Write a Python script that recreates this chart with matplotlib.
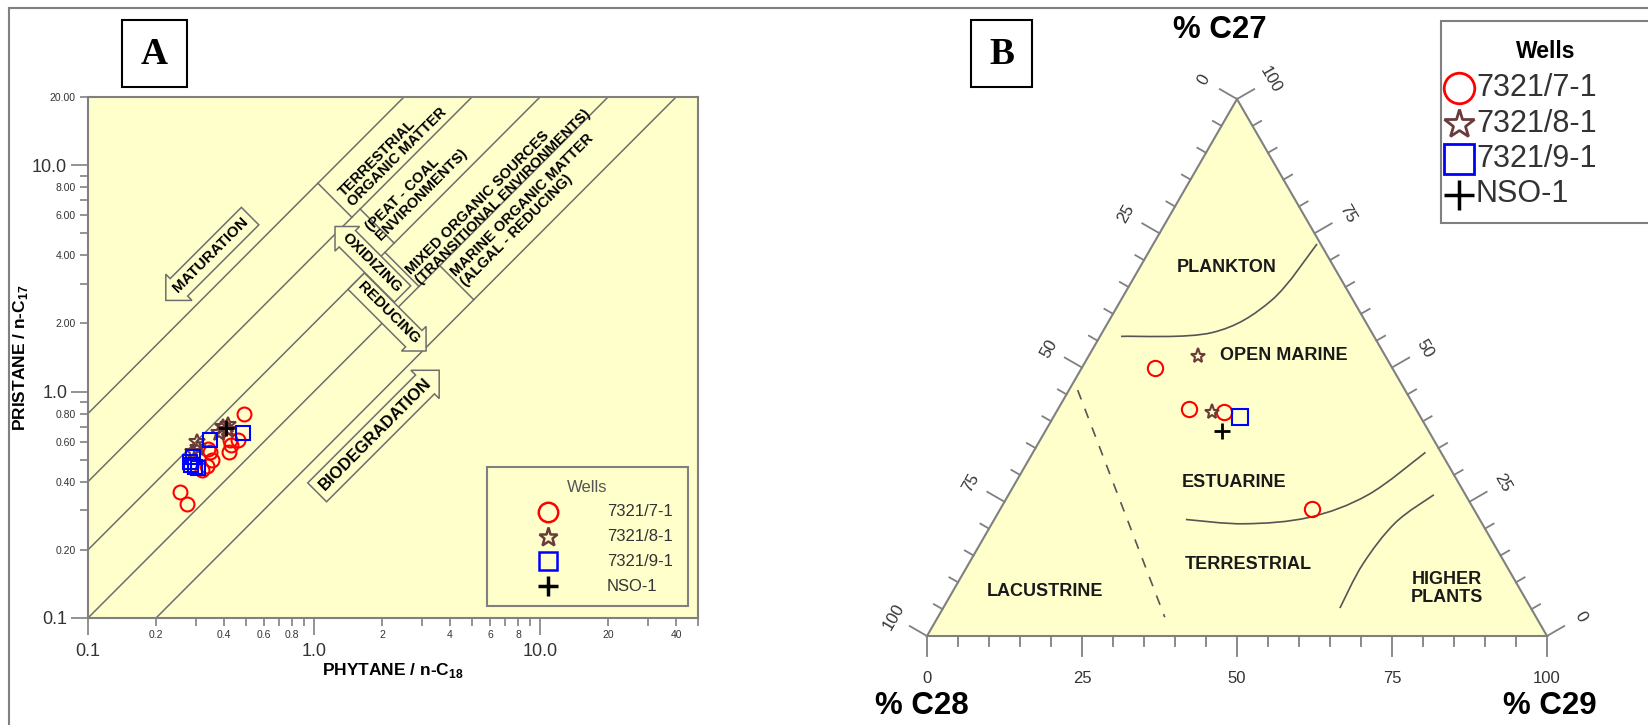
import numpy as np
import matplotlib
matplotlib.use('Agg')
import matplotlib.pyplot as plt
from matplotlib.path import Path
from matplotlib.patches import PathPatch, Polygon, Rectangle
from matplotlib.lines import Line2D
from matplotlib.ticker import FixedLocator, FuncFormatter

plt.rcParams['font.family'] = ['Liberation Sans', 'DejaVu Sans']
plt.rcParams['mathtext.fontset'] = 'custom'
plt.rcParams['mathtext.rm'] = 'Liberation Sans'
plt.rcParams['mathtext.bf'] = 'Liberation Sans:bold'

W, H = 1649, 725
YELLOW = '#ffffcc'
GRAY = '#808080'
LINE = '#6e6e6e'
TXT = '#333333'

# ---------------- data ----------------
wells = ['7321/7-1', '7321/8-1', '7321/9-1', 'NSO-1']

# panel A : phytane/n-C18 (x) vs pristane/n-C17 (y)
ph_71 = [0.49, 0.255, 0.273, 0.42, 0.425, 0.46, 0.347, 0.353, 0.335, 0.319, 0.34, 0.43]
pr_71 = [0.80, 0.36, 0.32, 0.54, 0.61, 0.61, 0.54, 0.50, 0.47, 0.45, 0.56, 0.58]
ph_81 = [0.397, 0.418, 0.381, 0.303, 0.308, 0.292, 0.418]
pr_81 = [0.70, 0.677, 0.655, 0.601, 0.561, 0.543, 0.711]
ph_91 = [0.487, 0.347, 0.292, 0.287, 0.297, 0.308, 0.283]
pr_91 = [0.659, 0.611, 0.516, 0.474, 0.466, 0.459, 0.49]
ph_nso = [0.41]
pr_nso = [0.69]

# diagonal Pr/n-C17 : Ph/n-C18 ratio lines
ratio_lines = [8, 4, 2, 1, 0.5]
# brackets: (from line, to line, x where bracket leaves first line)
brackets = [(8, 4, 1.04), (4, 2, 1.6), (2, 1, 2.06), (1, 0.5, 3.6)]

x_minor_lab = {0.2: '0.2', 0.4: '0.4', 0.6: '0.6', 0.8: '0.8', 2: '2', 4: '4',
               6: '6', 8: '8', 20: '20', 40: '40'}
y_minor_lab = {0.2: '0.20', 0.4: '0.40', 0.6: '0.60', 0.8: '0.80', 2: '2.00',
               4: '4.00', 6: '6.00', 8: '8.00', 20: '20.00'}

# panel B : sterane ternary (%C27, %C28, %C29)
c27_71 = [50.0, 42.2, 41.8, 23.7]
c28_71 = [38.3, 36.7, 31.2, 26.1]
c29_71 = [11.7, 21.1, 27.0, 50.2]
c27_81 = [52.1, 41.8]
c28_81 = [30.3, 33.2]
c29_81 = [17.6, 25.0]
c27_91 = [40.7]
c28_91 = [29.1]
c29_91 = [30.2]
c27_nso = [38.1]
c28_nso = [33.3]
c29_nso = [28.6]

# environment boundaries, as (%C27, %C29)
plankton_curve = [(55.8, 3.4), (56.5, 17.7), (62.5, 24.3), (73.0, 26.4)]
estuarine_curve = [(21.7, 30.9), (20.9, 40.8), (22.1, 50.6), (26.3, 58.0), (34.2, 63.3)]
plants_curve = [(5.2, 64.0), (13.4, 63.6), (21.1, 65.0), (26.3, 68.6)]
lacustrine_line = [(45.8, 1.4), (3.5, 36.6)]

styles = {
    '7321/7-1': dict(marker='o', mec='#ff0000'),
    '7321/8-1': dict(marker='*', mec='#6b3b3b'),
    '7321/9-1': dict(marker='s', mec='#0000ff'),
    'NSO-1': dict(marker='+', mec='#000000'),
}


def fx(px):
    return px / W


def fy(py):
    return 1 - py / H


fig = plt.figure(figsize=(W / 100, H / 100), dpi=100)

# outer frame
fig.add_artist(Line2D([fx(9), fx(9)], [0, fy(8)], color=GRAY, lw=1.5))
fig.add_artist(Line2D([fx(9), 1], [fy(8), fy(8)], color=GRAY, lw=1.5))

# panel letters
for letter, x0, x1 in [('A', 122, 187), ('B', 971, 1032)]:
    fig.add_artist(Rectangle((fx(x0), fy(87)), fx(x1 - x0), (87 - 20) / H,
                             transform=fig.transFigure, fc='white', ec='black', lw=1.5))
    fig.text(fx((x0 + x1) / 2), fy(54), letter, family='Liberation Serif',
             weight='bold', fontsize=27, ha='center', va='center')

# ================= panel A =================
ax = fig.add_axes([fx(88), fy(618), (698 - 88) / W, (618 - 97) / H])
ax.set_facecolor(YELLOW)
ax.set_xscale('log')
ax.set_yscale('log')
ax.set_xlim(0.1, 50)
ax.set_ylim(0.1, 20)

xs = np.array([0.01, 100.0])
for k in ratio_lines:
    ax.plot(xs, k * xs, color=LINE, lw=1.1, zorder=1)

for k1, k2, x1 in brackets:
    u = np.log10(x1)
    a1, a2 = np.log10(k1), np.log10(k2)
    d = (a1 - a2) / 2
    ax.plot([10 ** u, 10 ** (u + d)], [10 ** (u + a1), 10 ** (u + a1 - d)],
            color=LINE, lw=1.1, zorder=1)

arrow_box = dict(fc=YELLOW, ec=LINE, lw=1.1)
ax.text(0.35, 4.0, 'MATURATION', rotation=45, ha='center', va='center', fontsize=11,
        weight='bold', zorder=2, bbox=dict(boxstyle='larrow,pad=0.35', **arrow_box))
ax.text(1.80, 3.69, 'OXIDIZING', rotation=-45, ha='center', va='center', fontsize=11,
        weight='bold', zorder=2, bbox=dict(boxstyle='larrow,pad=0.3', **arrow_box))
ax.text(2.13, 2.22, 'REDUCING', rotation=-45, ha='center', va='center', fontsize=11,
        weight='bold', zorder=2, bbox=dict(boxstyle='rarrow,pad=0.3', **arrow_box))
ax.text(1.86, 0.646, 'BIODEGRADATION', rotation=45, ha='center', va='center', fontsize=12,
        weight='bold', zorder=2, bbox=dict(boxstyle='rarrow,pad=0.35', **arrow_box))

zone_labels = [(2.23, 11.4, 'TERRESTRIAL\nORGANIC MATTER'),
               (2.85, 7.76, '(PEAT - COAL\nENVIRONMENTS)'),
               (6.52, 7.63, 'MIXED ORGANIC SOURCES\n(TRANSITIONAL ENVIRONMENTS)'),
               (8.8, 6.35, 'MARINE ORGANIC MATTER\n(ALGAL - REDUCING)')]
for x, y, s in zone_labels:
    ax.text(x, y, s, rotation=45, ha='center', va='center', multialignment='left',
            fontsize=10.5, weight='bold', linespacing=1.0, zorder=2)

series_a = [(ph_71, pr_71), (ph_81, pr_81), (ph_91, pr_91), (ph_nso, pr_nso)]
sizes_a = {'o': 10, '*': 12, 's': 10, '+': 11}
for name, (x, y) in zip(wells, series_a):
    st = styles[name]
    ax.plot(x, y, ls='none', marker=st['marker'], mec=st['mec'], mfc='none',
            ms=sizes_a[st['marker']], mew=1.5 if st['marker'] != '+' else 2, zorder=3)

ax.xaxis.set_major_locator(FixedLocator([0.1, 1, 10]))
ax.yaxis.set_major_locator(FixedLocator([0.1, 1, 10]))
ax.xaxis.set_major_formatter(FuncFormatter(lambda v, p: f'{v:.1f}'))
ax.yaxis.set_major_formatter(FuncFormatter(lambda v, p: f'{v:.1f}'))
minors_x = [m * d for d in (0.1, 1, 10) for m in range(2, 10) if m * d <= 50]
minors_y = [m * d for d in (0.1, 1, 10) for m in range(2, 10) if m * d <= 20]
ax.xaxis.set_minor_locator(FixedLocator(minors_x))
ax.yaxis.set_minor_locator(FixedLocator(minors_y))


def minor_fmt(table):
    def f(v, p):
        for key, lab in table.items():
            if abs(v - key) < 1e-6 * key:
                return lab
        return ''
    return FuncFormatter(f)


ax.xaxis.set_minor_formatter(minor_fmt(x_minor_lab))
ax.yaxis.set_minor_formatter(minor_fmt(y_minor_lab))
ax.tick_params(which='major', length=12, width=1.2, color=GRAY, labelcolor=TXT,
               labelsize=13)
ax.tick_params(axis='x', which='major', pad=6)
ax.tick_params(axis='y', which='major', pad=3)
ax.tick_params(which='minor', length=6, width=1.2, color=GRAY, labelcolor=TXT,
               labelsize=7.5, pad=3)
for sp in ax.spines.values():
    sp.set_color(GRAY)
    sp.set_linewidth(1.5)

ax.set_xlabel('PHYTANE / n-C$_{\\mathbf{18}}$', fontsize=12.5, weight='bold', labelpad=1)
ax.set_ylabel('PRISTANE / n-C$_{\\mathbf{17}}$', fontsize=12.5, weight='bold')
ax.yaxis.set_label_coords(-0.095, 0.5)

# legend A
fig.add_artist(Rectangle((fx(487), fy(606)), 201 / W, 139 / H, transform=fig.transFigure,
                         fc=YELLOW, ec=GRAY, lw=1.5))
fig.text(fx(587), fy(487), 'Wells', fontsize=12, color='#555555', ha='center', va='center')
leg_sizes_a = {'o': 14, '*': 14, 's': 13, '+': 14}
for i, name in enumerate(wells):
    yy = fy(512 + 24.7 * i)
    st = styles[name]
    fig.add_artist(Line2D([fx(548)], [yy], transform=fig.transFigure, ls='none',
                          marker=st['marker'], mec=st['mec'], mfc='none',
                          ms=leg_sizes_a[st['marker']], mew=1.8 if st['marker'] != '+' else 2.5))
    fig.text(fx(607), yy, name, fontsize=12, color=TXT, ha='left', va='center')

# ================= panel B =================
SIDE = 620.0
X0, Y0 = 927.0, 636.0
axb = fig.add_axes([fx(860), 0, (W - 860) / W, 1])
axb.set_xlim((860 - X0) / SIDE, (W - X0) / SIDE)
axb.set_ylim((Y0 - H) / SIDE, Y0 / SIDE)
axb.axis('off')
R3 = np.sqrt(3) / 2


def tern(c27, c29):
    c27 = np.asarray(c27, float) / 100
    c29 = np.asarray(c29, float) / 100
    return c29 + c27 / 2, c27 * R3


def smooth_path(pts):
    pts = np.asarray(pts, float)
    verts = [pts[0]]
    codes = [Path.MOVETO]
    for i in range(len(pts) - 1):
        p0 = pts[i - 1] if i > 0 else pts[i]
        p1, p2 = pts[i], pts[i + 1]
        p3 = pts[i + 2] if i + 2 < len(pts) else pts[i + 1]
        verts += [p1 + (p2 - p0) / 6, p2 - (p3 - p1) / 6, p2]
        codes += [Path.CURVE4] * 3
    return Path(verts, codes)


axb.add_patch(Polygon([(0, 0), (1, 0), (0.5, R3)], closed=True, fc=YELLOW, ec=GRAY,
                      lw=1.5, zorder=1))

for curve in (plankton_curve, estuarine_curve, plants_curve):
    u, v = tern([c[0] for c in curve], [c[1] for c in curve])
    axb.add_patch(PathPatch(smooth_path(np.column_stack([u, v])), fc='none',
                            ec='#555555', lw=1.2, zorder=2))
u, v = tern([c[0] for c in lacustrine_line], [c[1] for c in lacustrine_line])
axb.plot(u, v, color='#555555', lw=1.2, ls=(0, (6, 6)), zorder=2)

# ticks
for t in range(0, 101, 5):
    f = t / 100
    L = 0.032 if t % 25 == 0 else 0.016
    # bottom (%C29)
    axb.plot([f, f], [0, -L], color=GRAY, lw=1.3, zorder=1)
    # left (%C28)
    px, py = 0.5 * (1 - f), R3 * (1 - f)
    axb.plot([px, px - R3 * L], [py, py + 0.5 * L], color=GRAY, lw=1.3, zorder=1)
    # right (%C27)
    qx, qy = 1 - 0.5 * f, R3 * f
    axb.plot([qx, qx + R3 * L], [qy, qy + 0.5 * L], color=GRAY, lw=1.3, zorder=1)
    if t % 25 == 0:
        axb.text(f, -0.068, str(t), fontsize=12, color=TXT, ha='center', va='center')
        D = 0.062
        axb.text(px - R3 * D, py + 0.5 * D, str(t), fontsize=12, color=TXT,
                 rotation=60, ha='center', va='center')
        axb.text(qx + R3 * D, qy + 0.5 * D, str(t), fontsize=12, color=TXT,
                 rotation=-60, ha='center', va='center')

region_labels = [(0.483, 0.595, 'PLANKTON'), (0.575, 0.453, 'OPEN MARINE'),
                 (0.496, 0.248, 'ESTUARINE'), (0.518, 0.116, 'TERRESTRIAL'),
                 (0.191, 0.0713, 'LACUSTRINE'), (0.839, 0.077, 'HIGHER\nPLANTS')]
for u, v, s in region_labels:
    axb.text(u, v, s, fontsize=13, weight='bold', color='#1a1a1a', ha='center',
             va='center', linespacing=1.1, zorder=3)

series_b = [(c27_71, c29_71), (c27_81, c29_81), (c27_91, c29_91), (c27_nso, c29_nso)]
sizes_b = {'o': 11, '*': 11, 's': 11, '+': 11}
for name, (a, c) in zip(wells, series_b):
    st = styles[name]
    u, v = tern(a, c)
    axb.plot(u, v, ls='none', marker=st['marker'], mec=st['mec'], mfc='none',
             ms=sizes_b[st['marker']], mew=1.5 if st['marker'] != '+' else 2, zorder=4)

fig.text(fx(1220), fy(30), '% C27', fontsize=22.5, weight='bold', ha='center', va='center')
fig.text(fx(922), fy(706), '% C28', fontsize=22.5, weight='bold', ha='center', va='center')
fig.text(fx(1550), fy(706), '% C29', fontsize=22.5, weight='bold', ha='center', va='center')

# legend B
fig.add_artist(Rectangle((fx(1441), fy(223)), 230 / W, 202 / H, transform=fig.transFigure,
                         fc='white', ec=GRAY, lw=1.5))
fig.text(fx(1546), fy(51), 'Wells', fontsize=16.5, weight='bold', ha='center', va='center')
leg_sizes_b = {'o': 22, '*': 22, 's': 21, '+': 22}
for i, name in enumerate(wells):
    yy = fy(88 + 35.5 * i)
    st = styles[name]
    fig.add_artist(Line2D([fx(1459)], [yy], transform=fig.transFigure, ls='none',
                          marker=st['marker'], mec=st['mec'], mfc='none',
                          ms=leg_sizes_b[st['marker']], mew=2 if st['marker'] != '+' else 2.5))
    fig.text(fx(1476), yy, name, fontsize=22, color=TXT, ha='left', va='center')

fig.savefig('out.png', dpi=100)
